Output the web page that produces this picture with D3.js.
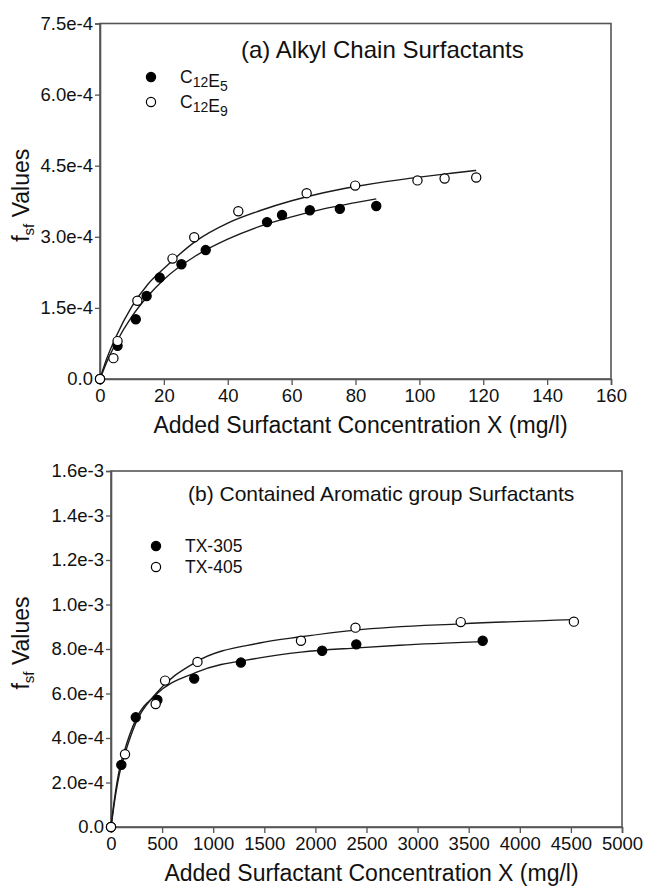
<!DOCTYPE html>
<html>
<head>
<meta charset="utf-8">
<script src="https://cdn.jsdelivr.net/npm/d3@7"></script>
<style>
  body { margin: 0; background: #fff; }
  text { font-family: "Liberation Sans", Arial, sans-serif; fill: #111; }
</style>
</head>
<body>
<svg id="chart" width="645" height="887"></svg>
<script>
// (a) alkyl chain surfactants, x in mg/l
const e5X = [0, 5.5, 11.2, 14.6, 18.7, 25.5, 33.1, 52.3, 57.0, 65.7, 75.1, 86.5];
const e5Y = [0, 0.70e-4, 1.26e-4, 1.75e-4, 2.14e-4, 2.42e-4, 2.72e-4, 3.31e-4, 3.46e-4, 3.56e-4, 3.59e-4, 3.65e-4];
const e9X = [0, 4.2, 5.5, 11.7, 22.7, 29.5, 43.3, 64.7, 79.9, 99.4, 107.9, 117.8];
const e9Y = [0, 0.44e-4, 0.80e-4, 1.65e-4, 2.54e-4, 2.99e-4, 3.54e-4, 3.92e-4, 4.08e-4, 4.19e-4, 4.23e-4, 4.25e-4];
// fitted curves
const e5FitX = [0, 2, 5, 10, 15, 20, 30, 40, 50, 60, 70, 80, 86.5];
const e5FitY = [0, 0.34e-4, 0.76e-4, 1.32e-4, 1.75e-4, 2.10e-4, 2.60e-4, 2.95e-4, 3.22e-4, 3.42e-4, 3.59e-4, 3.72e-4, 3.80e-4];
const e9FitX = [0, 2, 5, 10, 15, 20, 30, 40, 50, 60, 70, 80, 90, 100, 110, 117.8];
const e9FitY = [0, 0.41e-4, 0.89e-4, 1.53e-4, 2.00e-4, 2.33e-4, 2.91e-4, 3.29e-4, 3.55e-4, 3.76e-4, 3.93e-4, 4.06e-4, 4.17e-4, 4.26e-4, 4.34e-4, 4.40e-4];

// (b) aromatic group surfactants
const tx305X = [0, 101, 242, 454, 814, 1271, 2066, 2400, 3637];
const tx305Y = [0, 2.79e-4, 4.93e-4, 5.71e-4, 6.67e-4, 7.39e-4, 7.92e-4, 8.21e-4, 8.37e-4];
const tx405X = [0, 137, 437, 529, 846, 1859, 2392, 3422, 4529];
const tx405Y = [0, 3.27e-4, 5.53e-4, 6.58e-4, 7.42e-4, 8.37e-4, 8.96e-4, 9.21e-4, 9.23e-4];
const tx305FitX = [0, 40, 81, 130, 245, 441, 833, 1454, 1860, 2410, 2826, 3637];
const tx305FitY = [0, 1.45e-4, 2.56e-4, 3.40e-4, 4.85e-4, 5.95e-4, 6.95e-4, 7.60e-4, 7.86e-4, 8.05e-4, 8.17e-4, 8.33e-4];
const tx405FitX = [0, 40, 81, 137, 245, 441, 833, 1454, 1860, 2394, 3424, 4529];
const tx405FitY = [0, 1.30e-4, 2.35e-4, 3.30e-4, 4.70e-4, 6.00e-4, 7.42e-4, 8.27e-4, 8.55e-4, 8.85e-4, 9.13e-4, 9.32e-4];

const topXTicks = [0, 20, 40, 60, 80, 100, 120, 140, 160];
const topYTicks = [0, 1.5e-4, 3.0e-4, 4.5e-4, 6.0e-4, 7.5e-4];
const botXTicks = [0, 500, 1000, 1500, 2000, 2500, 3000, 3500, 4000, 4500, 5000];
const botYTicks = [0, 2e-4, 4e-4, 6e-4, 8e-4, 1.0e-3, 1.2e-3, 1.4e-3, 1.6e-3];

const svg = d3.select("#chart");
const zip = (xs, ys) => xs.map((x, i) => [x, ys[i]]);
const fmtY = (d) => (d === 0 ? "0.0" : d3.format(".1e")(d));

function drawPanel(opt) {
  const x = d3.scaleLinear().domain(opt.xDomain).range([opt.left, opt.right]);
  const y = d3.scaleLinear().domain(opt.yDomain).range([opt.bottom, opt.top]);
  const g = svg.append("g");

  // frame
  g.append("rect")
    .attr("x", opt.left).attr("y", opt.top)
    .attr("width", opt.right - opt.left).attr("height", opt.bottom - opt.top)
    .attr("fill", "none").attr("stroke", "#555").attr("stroke-width", 1.6);

  const xAxis = g.append("g")
    .attr("transform", `translate(0,${opt.bottom})`)
    .call(d3.axisBottom(x).tickValues(opt.xTicks).tickSize(6).tickPadding(4).tickFormat(d3.format("d")));
  const yAxis = g.append("g")
    .attr("transform", `translate(${opt.left},0)`)
    .call(d3.axisLeft(y).tickValues(opt.yTicks).tickSize(5).tickPadding(2).tickFormat(fmtY));
  [xAxis, yAxis].forEach((a) => {
    a.select(".domain").attr("stroke", "#555").attr("stroke-width", 1.6);
    a.selectAll(".tick line").attr("stroke", "#555").attr("stroke-width", 1.3);
    a.selectAll(".tick text").style("font-size", "18.5px").style("font-family", "Liberation Sans, Arial, sans-serif").attr("fill", "#111");
  });

  const line = d3.line().x((d) => x(d[0])).y((d) => y(d[1])).curve(d3.curveMonotoneX);
  opt.fits.forEach((f) => {
    g.append("path").datum(f).attr("d", line)
      .attr("fill", "none").attr("stroke", "#1a1a1a").attr("stroke-width", 1.4);
  });

  opt.series.forEach((s) => {
    g.selectAll(null).data(s.points).enter().append("circle")
      .attr("cx", (d) => x(d[0])).attr("cy", (d) => y(d[1])).attr("r", 4.6)
      .attr("fill", s.filled ? "#000" : "#fff")
      .attr("stroke", "#000").attr("stroke-width", 1.2);
  });

  // legend
  opt.series.forEach((s, i) => {
    const ly = opt.legendY + i * opt.legendGap;
    g.append("circle").attr("cx", opt.legendX).attr("cy", ly).attr("r", 4.6)
      .attr("fill", s.filled ? "#000" : "#fff").attr("stroke", "#000").attr("stroke-width", 1.2);
    const t = g.append("text").attr("x", opt.legendX + 29).attr("y", ly + 6).style("font-size", "17.5px");
    s.label.forEach((part) => {
      if (part.sub) {
        t.append("tspan").attr("dy", 4).style("font-size", "14px").text(part.sub);
        t.append("tspan").attr("dy", -4).text("");
      } else {
        t.append("tspan").text(part.t);
      }
    });
  });

  g.append("text").attr("x", opt.titleX).attr("y", opt.titleY)
    .style("font-size", opt.titleSize).text(opt.title);

  g.append("text").attr("x", (opt.left + opt.right) / 2 + 5).attr("y", opt.bottom + 54)
    .attr("text-anchor", "middle").style("font-size", "23px")
    .text("Added Surfactant Concentration X (mg/l)");

  const yl = g.append("text")
    .attr("transform", `translate(29,${(opt.top + opt.bottom) / 2 - 6}) rotate(-90)`)
    .attr("text-anchor", "middle").style("font-size", "23px");
  yl.append("tspan").text("f");
  yl.append("tspan").attr("dy", 5).style("font-size", "15px").text("sf");
  yl.append("tspan").attr("dy", -5).text(" Values");
}

drawPanel({
  left: 100, right: 611, top: 23.5, bottom: 379,
  xDomain: [0, 160], yDomain: [0, 7.5e-4],
  xTicks: topXTicks, yTicks: topYTicks,
  fits: [zip(e5FitX, e5FitY), zip(e9FitX, e9FitY)],
  series: [
    { points: zip(e5X, e5Y), filled: true, label: [{ t: "C" }, { sub: "12" }, { t: "E" }, { sub: "5" }] },
    { points: zip(e9X, e9Y), filled: false, label: [{ t: "C" }, { sub: "12" }, { t: "E" }, { sub: "9" }] }
  ],
  legendX: 151, legendY: 77, legendGap: 25,
  title: "(a) Alkyl Chain Surfactants", titleX: 241, titleY: 58, titleSize: "24px"
});

drawPanel({
  left: 111, right: 622, top: 471, bottom: 827,
  xDomain: [0, 5000], yDomain: [0, 1.6e-3],
  xTicks: botXTicks, yTicks: botYTicks,
  fits: [zip(tx305FitX, tx305FitY), zip(tx405FitX, tx405FitY)],
  series: [
    { points: zip(tx305X, tx305Y), filled: true, label: [{ t: "TX-305" }] },
    { points: zip(tx405X, tx405Y), filled: false, label: [{ t: "TX-405" }] }
  ],
  legendX: 156, legendY: 546, legendGap: 21,
  title: "(b) Contained Aromatic group Surfactants", titleX: 188, titleY: 501, titleSize: "21px"
});
</script>
</body>
</html>
